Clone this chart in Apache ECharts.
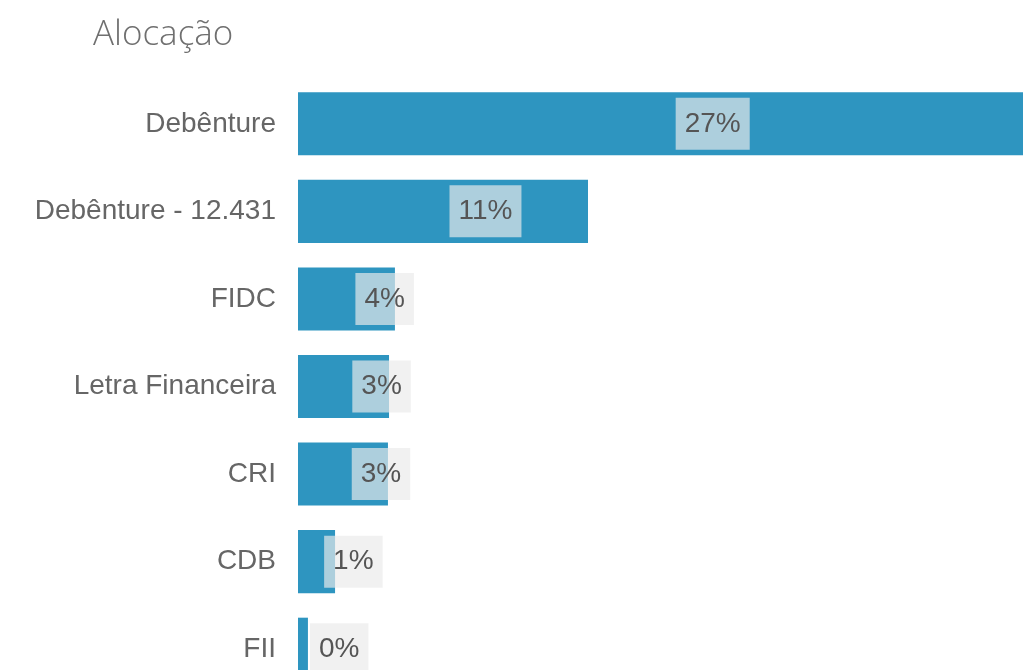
<!DOCTYPE html>
<html>
<head>
<meta charset="utf-8">
<script src="https://cdn.jsdelivr.net/npm/echarts@6/dist/echarts.min.js"></script>
<style>
html,body{margin:0;padding:0;background:#fff;overflow:hidden;}
/* a última categoria fica cortada na borda inferior */
#chart{width:1023px;height:693px;}
</style>
</head>
<body>
<div id="chart"></div>
<script>
// categorias e valores (%)
var categorias=['Debênture','Debênture - 12.431','FIDC','Letra Financeira','CRI','CDB','FII'];
var valores=[27,10.8,3.61,3.39,3.35,1.38,0.37];

var myChart=echarts.init(document.getElementById('chart'));
myChart.setOption({
    animation:false,
    title:{
        text:'Alocação',
        left:88,
        top:13,
        textStyle:{
            fontFamily:'Open Sans',
            fontWeight:300,
            fontSize:35,
            color:'#6f6f6f'
        }
    },
    grid:{
        left:298,
        right:0,
        top:80,
        bottom:0
    },
    xAxis:{
        type:'value',
        min:0,
        max:27,
        show:false
    },
    yAxis:{
        type:'category',
        inverse:true,
        data:categorias,
        axisLine:{show:false},
        axisTick:{show:false},
        splitLine:{show:false},
        axisLabel:{
            margin:22,
            fontFamily:'Liberation Sans',
            fontSize:28,
            color:'#666'
        }
    },
    series:[{
        type:'bar',
        // rótulo deslocado para a direita, um pouco mais nas barras longas
        data:valores.map(function(v){
            return {value:v,label:{offset:[36+v*0.6,0]}};
        }),
        barCategoryGap:'28%',
        itemStyle:{color:'#2e95c0'},
        label:{
            show:true,
            position:'inside',
            formatter:function(p){
                return Math.round(p.value)+'%';
            },
            fontFamily:'Liberation Sans',
            fontSize:28,
            lineHeight:30,
            color:'#555',
            backgroundColor:'rgba(234,235,235,0.68)',
            padding:[11,9]
        }
    }]
});
</script>
</body>
</html>
